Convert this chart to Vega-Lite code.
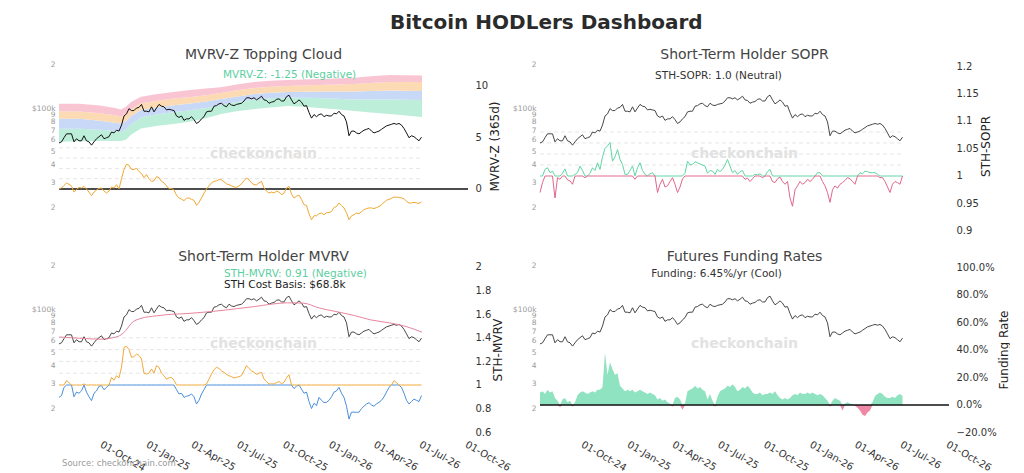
{
  "$schema": "https://vega.github.io/schema/vega-lite/v6.json",
  "background": "white",
  "padding": {"left": 31, "top": 13, "right": 0, "bottom": 0},
  "title": {"text": "Bitcoin HODLers Dashboard", "fontSize": 20, "fontWeight": "bold", "font": "DejaVu Sans", "color": "#2b2b2b", "anchor": "start", "frame": "group", "dx": 331, "offset": 15},
  "config": {
    "view": {"stroke": null},
    "font": "DejaVu Sans",
    "axis": {"grid": false, "domain": false, "ticks": false, "labelFont": "DejaVu Sans", "titleFont": "DejaVu Sans"},
    "title": {"font": "DejaVu Sans"}
  },
  "datasets": {
    "btc": [
      {"d":"2024-07-05","p":57000,"z":0,"s":0.970,"m":0.895,"f":0.09},
      {"d":"2024-07-10","p":58000,"z":0.1,"s":0.988,"m":0.91,"f":0.10},
      {"d":"2024-07-15","p":62000,"z":0.35,"s":1.012,"m":0.98,"f":0.08},
      {"d":"2024-07-20","p":66000,"z":0.58,"s":1.015,"m":1.037,"f":0.11},
      {"d":"2024-07-25","p":66000,"z":0.45,"s":1.006,"m":1.02,"f":0.09},
      {"d":"2024-07-30","p":66000,"z":0.3,"s":1.009,"m":1.0,"f":0.10},
      {"d":"2024-08-04","p":58000,"z":-0.3,"s":0.96,"m":0.90,"f":0.05},
      {"d":"2024-08-09","p":61000,"z":-0.05,"s":0.997,"m":0.94,"f":0.03},
      {"d":"2024-08-14","p":59000,"z":0.16,"s":0.994,"m":0.93,"f":-0.015},
      {"d":"2024-08-19","p":59000,"z":0.1,"s":1.005,"m":0.95,"f":0.04},
      {"d":"2024-08-24","p":64000,"z":0.26,"s":1.013,"m":1.008,"f":0.05},
      {"d":"2024-08-29","p":59000,"z":0,"s":0.993,"m":0.94,"f":0.02},
      {"d":"2024-09-03","p":58000,"z":-0.3,"s":0.991,"m":0.90,"f":0.03},
      {"d":"2024-09-08","p":55000,"z":-0.65,"s":0.985,"m":0.867,"f":-0.01},
      {"d":"2024-09-13","p":58000,"z":-0.3,"s":1.003,"m":0.93,"f":0.02},
      {"d":"2024-09-18","p":61000,"z":-0.1,"s":1.006,"m":0.95,"f":0.07},
      {"d":"2024-09-23","p":63000,"z":0.05,"s":1.018,"m":0.99,"f":0.09},
      {"d":"2024-09-28","p":65000,"z":0.1,"s":1.01,"m":0.994,"f":0.10},
      {"d":"2024-10-03","p":61000,"z":-0.2,"s":0.997,"m":0.96,"f":0.09},
      {"d":"2024-10-08","p":62000,"z":-0.39,"s":1.0,"m":0.98,"f":0.08},
      {"d":"2024-10-13","p":63000,"z":-0.2,"s":1.005,"m":1.0,"f":0.09},
      {"d":"2024-10-18","p":68000,"z":0.2,"s":1.015,"m":1.065,"f":0.10},
      {"d":"2024-10-23","p":67000,"z":0.1,"s":1.01,"m":1.04,"f":0.09},
      {"d":"2024-10-28","p":70000,"z":0.42,"s":1.024,"m":1.079,"f":0.11},
      {"d":"2024-11-02","p":69000,"z":0,"s":1.012,"m":1.06,"f":0.11},
      {"d":"2024-11-07","p":76000,"z":1.0,"s":1.035,"m":1.15,"f":0.13},
      {"d":"2024-11-12","p":88000,"z":1.9,"s":1.05,"m":1.319,"f":0.38},
      {"d":"2024-11-17","p":91000,"z":2.4,"s":1.055,"m":1.328,"f":0.22},
      {"d":"2024-11-22","p":99000,"z":2.3,"s":1.061,"m":1.30,"f":0.31},
      {"d":"2024-11-27","p":96000,"z":1.9,"s":1.027,"m":1.234,"f":0.26},
      {"d":"2024-12-02","p":96000,"z":1.9,"s":1.035,"m":1.24,"f":0.22},
      {"d":"2024-12-07","p":100000,"z":2.0,"s":1.048,"m":1.263,"f":0.23},
      {"d":"2024-12-12","p":101000,"z":1.7,"s":1.03,"m":1.25,"f":0.14},
      {"d":"2024-12-17","p":106000,"z":1.5,"s":1.021,"m":1.22,"f":0.12},
      {"d":"2024-12-22","p":95000,"z":1.1,"s":1.003,"m":1.10,"f":0.10},
      {"d":"2024-12-27","p":95000,"z":1.4,"s":1.003,"m":1.093,"f":0.11},
      {"d":"2025-01-01","p":94000,"z":1.0,"s":1.01,"m":1.10,"f":0.10},
      {"d":"2025-01-06","p":102000,"z":0.74,"s":1.018,"m":1.136,"f":0.11},
      {"d":"2025-01-11","p":94000,"z":0.8,"s":0.994,"m":1.10,"f":0.09},
      {"d":"2025-01-16","p":100000,"z":1.2,"s":1.015,"m":1.164,"f":0.10},
      {"d":"2025-01-21","p":106000,"z":1.1,"s":1.024,"m":1.15,"f":0.11},
      {"d":"2025-01-26","p":103000,"z":0.74,"s":1.01,"m":1.10,"f":0.10},
      {"d":"2025-01-31","p":102000,"z":0.6,"s":1.003,"m":1.079,"f":0.09},
      {"d":"2025-02-05","p":97000,"z":0.3,"s":1.0,"m":1.05,"f":0.08},
      {"d":"2025-02-10","p":98000,"z":0.03,"s":1.004,"m":1.06,"f":0.09},
      {"d":"2025-02-15","p":97000,"z":0.05,"s":1.006,"m":1.065,"f":0.08},
      {"d":"2025-02-20","p":96000,"z":-0.1,"s":1.0,"m":1.04,"f":0.07},
      {"d":"2025-02-25","p":88000,"z":-0.6,"s":0.97,"m":0.96,"f":0.04},
      {"d":"2025-03-02","p":86000,"z":-0.87,"s":0.985,"m":0.924,"f":0.05},
      {"d":"2025-03-07","p":88000,"z":-1.0,"s":0.994,"m":0.93,"f":0.03},
      {"d":"2025-03-12","p":82000,"z":-1.13,"s":0.98,"m":0.895,"f":0.04},
      {"d":"2025-03-17","p":84000,"z":-0.9,"s":0.982,"m":0.905,"f":0.02},
      {"d":"2025-03-22","p":84000,"z":-0.87,"s":0.99,"m":0.91,"f":0.01},
      {"d":"2025-03-27","p":87000,"z":-1.0,"s":0.997,"m":0.924,"f":-0.01},
      {"d":"2025-04-01","p":83000,"z":-1.1,"s":0.985,"m":0.90,"f":0.05},
      {"d":"2025-04-06","p":78000,"z":-1.59,"s":0.97,"m":0.839,"f":0.06},
      {"d":"2025-04-11","p":80000,"z":-1.3,"s":0.98,"m":0.87,"f":0.04},
      {"d":"2025-04-16","p":84000,"z":-0.87,"s":0.995,"m":0.924,"f":-0.035},
      {"d":"2025-04-21","p":87000,"z":-0.4,"s":1.005,"m":0.96,"f":0.01},
      {"d":"2025-04-26","p":94000,"z":0,"s":1.027,"m":1.008,"f":0.10},
      {"d":"2025-05-01","p":95000,"z":0.3,"s":1.02,"m":1.05,"f":0.11},
      {"d":"2025-05-06","p":95000,"z":0.6,"s":1.021,"m":1.093,"f":0.12},
      {"d":"2025-05-11","p":103000,"z":0.74,"s":1.026,"m":1.13,"f":0.14},
      {"d":"2025-05-16","p":104000,"z":0.8,"s":1.024,"m":1.15,"f":0.12},
      {"d":"2025-05-21","p":107000,"z":0.9,"s":1.022,"m":1.14,"f":0.13},
      {"d":"2025-05-26","p":108000,"z":0.9,"s":1.02,"m":1.12,"f":0.11},
      {"d":"2025-05-31","p":104000,"z":0.7,"s":1.018,"m":1.107,"f":0.10},
      {"d":"2025-06-05","p":102000,"z":0.5,"s":1.005,"m":1.09,"f":0.04},
      {"d":"2025-06-10","p":108000,"z":0.42,"s":1.01,"m":1.079,"f":0.08},
      {"d":"2025-06-15","p":105000,"z":0.3,"s":1.009,"m":1.07,"f":0.03},
      {"d":"2025-06-20","p":104000,"z":0.2,"s":1.003,"m":1.06,"f":-0.01},
      {"d":"2025-06-25","p":106000,"z":0.16,"s":1.012,"m":1.065,"f":0.06},
      {"d":"2025-06-30","p":107000,"z":0.3,"s":1.008,"m":1.07,"f":0.10},
      {"d":"2025-07-05","p":108000,"z":0.5,"s":1.012,"m":1.08,"f":0.11},
      {"d":"2025-07-10","p":112000,"z":0.8,"s":1.02,"m":1.12,"f":0.12},
      {"d":"2025-07-15","p":118000,"z":1.07,"s":1.03,"m":1.164,"f":0.14},
      {"d":"2025-07-20","p":118000,"z":0.9,"s":1.018,"m":1.14,"f":0.13},
      {"d":"2025-07-25","p":116000,"z":0.6,"s":1.006,"m":1.12,"f":0.15},
      {"d":"2025-07-30","p":118000,"z":0.42,"s":1.01,"m":1.107,"f":0.13},
      {"d":"2025-08-04","p":114000,"z":0.4,"s":1.003,"m":1.09,"f":0.10},
      {"d":"2025-08-09","p":117000,"z":0.6,"s":1.008,"m":1.10,"f":0.11},
      {"d":"2025-08-14","p":121000,"z":0.74,"s":1.01,"m":1.107,"f":0.13},
      {"d":"2025-08-19","p":114000,"z":0.1,"s":0.994,"m":1.05,"f":0.12},
      {"d":"2025-08-24","p":113000,"z":-0.2,"s":0.996,"m":1.03,"f":0.14},
      {"d":"2025-08-29","p":108000,"z":-0.39,"s":0.99,"m":1.008,"f":0.12},
      {"d":"2025-09-03","p":110000,"z":-0.3,"s":0.995,"m":1.01,"f":0.09},
      {"d":"2025-09-08","p":111000,"z":-0.39,"s":1.003,"m":1.008,"f":0.08},
      {"d":"2025-09-13","p":115000,"z":-0.2,"s":1.002,"m":1.02,"f":0.08},
      {"d":"2025-09-18","p":116000,"z":-0.3,"s":1.004,"m":1.03,"f":0.09},
      {"d":"2025-09-23","p":112000,"z":-0.55,"s":0.997,"m":1.01,"f":0.07},
      {"d":"2025-09-28","p":112000,"z":-0.4,"s":1.0,"m":1.023,"f":0.08},
      {"d":"2025-10-03","p":120000,"z":0.1,"s":1.008,"m":1.06,"f":0.08},
      {"d":"2025-10-08","p":123000,"z":0.26,"s":1.012,"m":1.088,"f":0.09},
      {"d":"2025-10-13","p":114000,"z":-0.5,"s":0.99,"m":1.0,"f":0.08},
      {"d":"2025-10-18","p":107000,"z":-0.87,"s":0.988,"m":0.97,"f":0.10},
      {"d":"2025-10-23","p":110000,"z":-0.7,"s":0.995,"m":0.99,"f":0.07},
      {"d":"2025-10-28","p":114000,"z":-0.6,"s":0.998,"m":1.0,"f":0.05},
      {"d":"2025-11-02","p":110000,"z":-1.0,"s":0.99,"m":0.965,"f":0.04},
      {"d":"2025-11-07","p":103000,"z":-1.52,"s":0.985,"m":0.93,"f":0.05},
      {"d":"2025-11-12","p":104000,"z":-1.6,"s":0.99,"m":0.94,"f":0.04},
      {"d":"2025-11-17","p":93000,"z":-2.4,"s":0.96,"m":0.86,"f":0.05},
      {"d":"2025-11-22","p":85000,"z":-2.98,"s":0.945,"m":0.80,"f":0.07},
      {"d":"2025-11-27","p":90000,"z":-2.6,"s":0.975,"m":0.845,"f":0.08},
      {"d":"2025-12-02","p":87000,"z":-2.6,"s":0.982,"m":0.825,"f":0.07},
      {"d":"2025-12-07","p":90000,"z":-2.4,"s":0.99,"m":0.895,"f":0.09},
      {"d":"2025-12-12","p":91000,"z":-2.33,"s":0.985,"m":0.87,"f":0.08},
      {"d":"2025-12-17","p":87000,"z":-2.5,"s":0.988,"m":0.85,"f":0.08},
      {"d":"2025-12-22","p":89000,"z":-2.3,"s":0.994,"m":0.853,"f":0.09},
      {"d":"2025-12-27","p":88000,"z":-2.3,"s":0.99,"m":0.87,"f":0.08},
      {"d":"2026-01-01","p":88000,"z":-2.17,"s":0.994,"m":0.90,"f":0.09},
      {"d":"2026-01-06","p":92000,"z":-1.8,"s":1.0,"m":0.94,"f":0.08},
      {"d":"2026-01-11","p":91000,"z":-1.7,"s":1.006,"m":0.95,"f":0.07},
      {"d":"2026-01-16","p":95000,"z":-1.36,"s":1.006,"m":0.98,"f":0.08},
      {"d":"2026-01-21","p":90000,"z":-1.6,"s":0.99,"m":0.93,"f":0.07},
      {"d":"2026-01-26","p":88000,"z":-1.84,"s":0.982,"m":0.895,"f":0.05},
      {"d":"2026-01-31","p":80000,"z":-2.3,"s":0.97,"m":0.82,"f":0.03},
      {"d":"2026-02-05","p":64000,"z":-2.98,"s":0.952,"m":0.711,"f":-0.01},
      {"d":"2026-02-10","p":69000,"z":-2.6,"s":0.975,"m":0.77,"f":0.03},
      {"d":"2026-02-15","p":69000,"z":-2.5,"s":0.982,"m":0.77,"f":0.05},
      {"d":"2026-02-20","p":67000,"z":-2.33,"s":0.978,"m":0.768,"f":0.04},
      {"d":"2026-02-25","p":66000,"z":-2.4,"s":0.985,"m":0.77,"f":0.03},
      {"d":"2026-03-02","p":68000,"z":-2.2,"s":0.988,"m":0.80,"f":-0.04},
      {"d":"2026-03-07","p":70000,"z":-2.0,"s":0.992,"m":0.82,"f":0.01},
      {"d":"2026-03-12","p":71000,"z":-1.9,"s":0.997,"m":0.839,"f":0.02},
      {"d":"2026-03-17","p":72000,"z":-1.84,"s":0.995,"m":0.85,"f":0.01},
      {"d":"2026-03-22","p":69000,"z":-1.84,"s":0.99,"m":0.83,"f":0.005},
      {"d":"2026-03-27","p":67000,"z":-1.9,"s":0.985,"m":0.82,"f":-0.005},
      {"d":"2026-04-01","p":68000,"z":-1.8,"s":1.0,"m":0.84,"f":-0.02},
      {"d":"2026-04-06","p":69000,"z":-1.7,"s":1.006,"m":0.853,"f":-0.04},
      {"d":"2026-04-11","p":71000,"z":-1.52,"s":1.004,"m":0.87,"f":-0.07},
      {"d":"2026-04-16","p":73000,"z":-1.3,"s":1.009,"m":0.90,"f":-0.08},
      {"d":"2026-04-21","p":75000,"z":-1.1,"s":1.008,"m":0.94,"f":-0.055},
      {"d":"2026-04-26","p":76000,"z":-1.0,"s":1.006,"m":0.98,"f":-0.04},
      {"d":"2026-05-01","p":77000,"z":-0.9,"s":1.006,"m":1.0,"f":0.02},
      {"d":"2026-05-06","p":78000,"z":-0.78,"s":1.006,"m":1.037,"f":0.065},
      {"d":"2026-05-11","p":77000,"z":-0.8,"s":1.003,"m":1.02,"f":0.08},
      {"d":"2026-05-16","p":78000,"z":-0.8,"s":0.997,"m":1.0,"f":0.09},
      {"d":"2026-05-21","p":76000,"z":-0.87,"s":0.997,"m":0.98,"f":0.08},
      {"d":"2026-05-26","p":72000,"z":-0.95,"s":0.99,"m":0.93,"f":0.06},
      {"d":"2026-05-31","p":67000,"z":-1.2,"s":0.98,"m":0.87,"f":0.05},
      {"d":"2026-06-05","p":62000,"z":-1.36,"s":0.97,"m":0.839,"f":0.05},
      {"d":"2026-06-10","p":64000,"z":-1.36,"s":0.985,"m":0.86,"f":0.06},
      {"d":"2026-06-15","p":63000,"z":-1.3,"s":0.99,"m":0.88,"f":0.05},
      {"d":"2026-06-20","p":61000,"z":-1.35,"s":0.988,"m":0.87,"f":0.07},
      {"d":"2026-06-25","p":59000,"z":-1.4,"s":0.985,"m":0.86,"f":0.08},
      {"d":"2026-06-30","p":62600,"z":-1.25,"s":1.0,"m":0.91,"f":0.0645}
    ],
    "smooth": [
      {"d":"2024-07-05","c0":58000,"c1":71600,"c2":84200,"c3":94800,"c4":107000,"cb":63700},
      {"d":"2024-08-15","c0":58500,"c1":71500,"c2":84000,"c3":94700,"c4":107000,"cb":62500},
      {"d":"2024-09-25","c0":58800,"c1":70500,"c2":81500,"c3":92000,"c4":104000,"cb":61500},
      {"d":"2024-10-25","c0":58800,"c1":69000,"c2":79000,"c3":89000,"c4":100000,"cb":63500},
      {"d":"2024-11-06","c0":58800,"c1":68000,"c2":78000,"c3":87200,"c4":97600,"cb":66000},
      {"d":"2024-11-16","c0":60000,"c1":71000,"c2":81000,"c3":91000,"c4":102000,"cb":71000},
      {"d":"2024-11-26","c0":65000,"c1":77000,"c2":88000,"c3":98000,"c4":110000,"cb":79000},
      {"d":"2024-12-16","c0":72000,"c1":86000,"c2":97000,"c3":108000,"c4":120000,"cb":86000},
      {"d":"2025-01-15","c0":75000,"c1":90000,"c2":101000,"c3":112000,"c4":125000,"cb":89500},
      {"d":"2025-02-15","c0":77000,"c1":93000,"c2":104000,"c3":116000,"c4":129000,"cb":91800},
      {"d":"2025-03-20","c0":80000,"c1":96000,"c2":107000,"c3":119000,"c4":133000,"cb":93000},
      {"d":"2025-04-25","c0":85000,"c1":100000,"c2":111000,"c3":123000,"c4":137000,"cb":95300},
      {"d":"2025-05-25","c0":90800,"c1":105000,"c2":115600,"c3":127300,"c4":140000,"cb":97500},
      {"d":"2025-06-25","c0":95000,"c1":110000,"c2":120000,"c3":133000,"c4":146000,"cb":100500},
      {"d":"2025-07-31","c0":98400,"c1":114700,"c2":125300,"c3":138000,"c4":152000,"cb":104000},
      {"d":"2025-09-01","c0":101000,"c1":117000,"c2":128000,"c3":141000,"c4":155000,"cb":107900},
      {"d":"2025-10-05","c0":103300,"c1":118400,"c2":129400,"c3":142500,"c4":157000,"cb":110500},
      {"d":"2025-11-05","c0":102000,"c1":118000,"c2":130000,"c3":144000,"c4":158500,"cb":110000},
      {"d":"2025-12-08","c0":100000,"c1":117500,"c2":130400,"c3":145000,"c4":159500,"cb":101500},
      {"d":"2026-01-10","c0":98000,"c1":116000,"c2":130400,"c3":146000,"c4":161000,"cb":96000},
      {"d":"2026-02-16","c0":95300,"c1":114700,"c2":130400,"c3":147000,"c4":163000,"cb":90000},
      {"d":"2026-03-20","c0":93000,"c1":114700,"c2":131500,"c3":149500,"c4":166500,"cb":84000},
      {"d":"2026-04-27","c0":90800,"c1":114700,"c2":132600,"c3":152000,"c4":170000,"cb":80000},
      {"d":"2026-05-30","c0":88500,"c1":114200,"c2":132000,"c3":152000,"c4":169500,"cb":75500},
      {"d":"2026-07-01","c0":86500,"c1":113700,"c2":131500,"c3":152000,"c4":168700,"cb":68800}
    ]
  },
  "columns": 2,
  "spacing": {"row": 32, "column": 72},
  "bounds": "flush",
  "resolve": {"scale": {"x": "independent", "y": "independent"}},
  "concat": [
        {
          "width": 409, "height": 172,
          "title": {"text": "MVRV-Z Topping Cloud", "fontSize": 14, "fontWeight": "normal", "color": "#444", "baseline": "alphabetic", "offset": -13},
          "data": {"name": "btc"},
          "resolve": {"scale": {"y": "independent"}},
          "layer": [
            {"data": {"name": "smooth"}, "mark": {"type": "area", "color": "#bdeed9", "opacity": 1},
             "encoding": {"x": {"field": "d", "type": "temporal", "scale": {"type": "utc", "domain": [{"year":2024,"month":7,"date":5,"utc":true},{"year":2026,"month":10,"date":1,"utc":true}]}, "axis": null},
                          "y": {"field": "c0", "type": "quantitative", "scale": {"type": "log", "domain": [13590, 216700], "nice": false}, "axis": null},
                          "y2": {"field": "c1"}}},
            {"data": {"name": "smooth"}, "mark": {"type": "area", "color": "#c8d9f7", "opacity": 1},
             "encoding": {"x": {"field": "d", "type": "temporal", "scale": {"type": "utc", "domain": [{"year":2024,"month":7,"date":5,"utc":true},{"year":2026,"month":10,"date":1,"utc":true}]}, "axis": null},
                          "y": {"field": "c1", "type": "quantitative", "scale": {"type": "log", "domain": [13590, 216700], "nice": false}, "axis": null},
                          "y2": {"field": "c2"}}},
            {"data": {"name": "smooth"}, "mark": {"type": "area", "color": "#fcdab4", "opacity": 1},
             "encoding": {"x": {"field": "d", "type": "temporal", "scale": {"type": "utc", "domain": [{"year":2024,"month":7,"date":5,"utc":true},{"year":2026,"month":10,"date":1,"utc":true}]}, "axis": null},
                          "y": {"field": "c2", "type": "quantitative", "scale": {"type": "log", "domain": [13590, 216700], "nice": false}, "axis": null},
                          "y2": {"field": "c3"}}},
            {"data": {"name": "smooth"}, "mark": {"type": "area", "color": "#f9c5d3", "opacity": 1},
             "encoding": {"x": {"field": "d", "type": "temporal", "scale": {"type": "utc", "domain": [{"year":2024,"month":7,"date":5,"utc":true},{"year":2026,"month":10,"date":1,"utc":true}]}, "axis": null},
                          "y": {"field": "c3", "type": "quantitative", "scale": {"type": "log", "domain": [13590, 216700], "nice": false}, "axis": null},
                          "y2": {"field": "c4"}}},
            {"data": {"values": [{"v": 1}, {"v": 2}, {"v": 3}, {"v": 4}]}, "mark": {"type": "rule", "color": "#e6e6e6", "strokeDash": [4, 3], "strokeWidth": 1},
             "encoding": {"x": {"datum": {"year":2024,"month":7,"date":5,"utc":true}, "type": "temporal", "scale": {"type": "utc", "domain": [{"year":2024,"month":7,"date":5,"utc":true},{"year":2026,"month":10,"date":1,"utc":true}]}, "axis": null},
                          "x2": {"datum": {"year":2026,"month":6,"date":30,"utc":true}},
                          "y": {"field": "v", "type": "quantitative", "scale": {"domain": [-4.175, 12.524], "nice": false, "zero": false}, "axis": null}}},
            {"data": {"values": [{}]}, "mark": {"type": "text", "text": "checkonchain", "fontSize": 14, "fontWeight": "bold", "color": "#e2e2e2", "align": "center", "baseline": "middle"},
             "encoding": {"x": {"datum": {"year":2025,"month":8,"date":18,"utc":true}, "type": "temporal", "scale": {"type": "utc", "domain": [{"year":2024,"month":7,"date":5,"utc":true},{"year":2026,"month":10,"date":1,"utc":true}]}, "axis": null},
                          "y": {"datum": 3.4, "type": "quantitative", "scale": {"domain": [-4.175, 12.524], "nice": false, "zero": false}, "axis": null}}},
            {"mark": {"type": "line", "color": "#111111", "strokeWidth": 1},
             "encoding": {"x": {"field": "d", "type": "temporal", "scale": {"type": "utc", "domain": [{"year":2024,"month":7,"date":5,"utc":true},{"year":2026,"month":10,"date":1,"utc":true}]}, "axis": null},
                          "y": {"field": "p", "type": "quantitative", "scale": {"type": "log", "domain": [13590, 216700], "nice": false},
                                "axis": {"orient": "left", "values": [20000,30000,40000,50000,60000,70000,80000,90000,100000,200000], "labelExpr": "datum.value == 100000 ? '$100k' : datum.value > 100000 ? format(datum.value / 100000, 'd') : format(datum.value / 10000, 'd')", "labelFontSize": 7.5, "labelColor": "#9a9a9a", "labelPadding": 4, "labelOverlap": false, "labelBound": false, "title": null}}}},
            {"data": {"values": [{}]}, "mark": {"type": "rule", "color": "#111111", "strokeWidth": 1.3},
             "encoding": {"y": {"datum": 0, "type": "quantitative", "scale": {"domain": [-4.175, 12.524], "nice": false, "zero": false}, "axis": null}}},
            {"mark": {"type": "line", "color": "#f0a830", "strokeWidth": 1},
             "encoding": {"x": {"field": "d", "type": "temporal", "scale": {"type": "utc", "domain": [{"year":2024,"month":7,"date":5,"utc":true},{"year":2026,"month":10,"date":1,"utc":true}]}, "axis": null},
                          "y": {"field": "z", "type": "quantitative", "scale": {"domain": [-4.175, 12.524], "nice": false, "zero": false},
                                "axis": {"orient": "right", "values": [0, 5, 10], "format": "~r", "labelFontSize": 10, "labelColor": "#333", "labelPadding": 7, "title": "MVRV-Z (365d)", "titleAngle": 270, "titleBaseline": "top", "titleFontSize": 12, "titleFontWeight": "normal", "titleColor": "#222", "titlePadding": 2}}}},
            {"data": {"values": [{}]}, "mark": {"type": "text", "text": "MVRV-Z: -1.25 (Negative)", "fontSize": 10.5, "color": "#5ccf9f", "align": "left", "baseline": "middle"},
             "encoding": {"x": {"datum": {"year":2025,"month":5,"date":29,"utc":true}, "type": "temporal", "scale": {"type": "utc", "domain": [{"year":2024,"month":7,"date":5,"utc":true},{"year":2026,"month":10,"date":1,"utc":true}]}, "axis": null},
                          "y": {"datum": 11.07, "type": "quantitative", "scale": {"domain": [-4.175, 12.524], "nice": false, "zero": false}, "axis": null}}}
          ]
        },
        {
          "width": 409, "height": 172,
          "title": {"text": "Short-Term Holder SOPR", "fontSize": 14, "fontWeight": "normal", "color": "#444", "baseline": "alphabetic", "offset": -13},
          "data": {"name": "btc"},
          "resolve": {"scale": {"y": "independent"}},
          "layer": [
            {"data": {"values": [{"v": 1.02}, {"v": 1.04}, {"v": 1.06}, {"v": 1.08}]}, "mark": {"type": "rule", "color": "#e6e6e6", "strokeDash": [4, 3], "strokeWidth": 1},
             "encoding": {"x": {"datum": {"year":2024,"month":7,"date":5,"utc":true}, "type": "temporal", "scale": {"type": "utc", "domain": [{"year":2024,"month":7,"date":5,"utc":true},{"year":2026,"month":10,"date":1,"utc":true}]}, "axis": null},
                          "x2": {"datum": {"year":2026,"month":6,"date":30,"utc":true}},
                          "y": {"field": "v", "type": "quantitative", "scale": {"domain": [0.89818, 1.21091], "nice": false, "zero": false}, "axis": null}}},
            {"data": {"values": [{}]}, "mark": {"type": "text", "text": "checkonchain", "fontSize": 14, "fontWeight": "bold", "color": "#e2e2e2", "align": "center", "baseline": "middle"},
             "encoding": {"x": {"datum": {"year":2025,"month":8,"date":18,"utc":true}, "type": "temporal", "scale": {"type": "utc", "domain": [{"year":2024,"month":7,"date":5,"utc":true},{"year":2026,"month":10,"date":1,"utc":true}]}, "axis": null},
                          "y": {"datum": 1.04, "type": "quantitative", "scale": {"domain": [0.89818, 1.21091], "nice": false, "zero": false}, "axis": null}}},
            {"mark": {"type": "line", "color": "#333333", "strokeWidth": 0.9},
             "encoding": {"x": {"field": "d", "type": "temporal", "scale": {"type": "utc", "domain": [{"year":2024,"month":7,"date":5,"utc":true},{"year":2026,"month":10,"date":1,"utc":true}]}, "axis": null},
                          "y": {"field": "p", "type": "quantitative", "scale": {"type": "log", "domain": [13590, 216700], "nice": false},
                                "axis": {"orient": "left", "values": [20000,30000,40000,50000,60000,70000,80000,90000,100000,200000], "labelExpr": "datum.value == 100000 ? '$100k' : datum.value > 100000 ? format(datum.value / 100000, 'd') : format(datum.value / 10000, 'd')", "labelFontSize": 7.5, "labelColor": "#9a9a9a", "labelPadding": 4, "labelOverlap": false, "labelBound": false, "title": null}}}},
            {"mark": {"type": "line", "color": "#5fd6a4", "strokeWidth": 1},
             "encoding": {"x": {"field": "d", "type": "temporal", "scale": {"type": "utc", "domain": [{"year":2024,"month":7,"date":5,"utc":true},{"year":2026,"month":10,"date":1,"utc":true}]}, "axis": null},
                          "y": {"field": "s", "type": "quantitative", "scale": {"domain": [1, 1.21091], "range": [116, 0], "clamp": true, "nice": false, "zero": false}, "axis": null}}},
            {"mark": {"type": "line", "color": "#e2668c", "strokeWidth": 1},
             "encoding": {"x": {"field": "d", "type": "temporal", "scale": {"type": "utc", "domain": [{"year":2024,"month":7,"date":5,"utc":true},{"year":2026,"month":10,"date":1,"utc":true}]}, "axis": null},
                          "y": {"field": "s", "type": "quantitative", "scale": {"domain": [0.89818, 1], "range": [172, 116], "clamp": true, "nice": false, "zero": false}, "axis": null}}},
            {"data": {"values": [{}]}, "mark": {"type": "text", "text": "STH-SOPR: 1.0 (Neutral)", "fontSize": 10.5, "color": "#333", "align": "center", "baseline": "middle"},
             "encoding": {"x": {"datum": {"year":2025,"month":6,"date":27,"utc":true}, "type": "temporal", "scale": {"type": "utc", "domain": [{"year":2024,"month":7,"date":5,"utc":true},{"year":2026,"month":10,"date":1,"utc":true}]}, "axis": null},
                          "y": {"datum": 1.1818, "type": "quantitative", "scale": {"domain": [0.89818, 1.21091], "nice": false, "zero": false},
                                "axis": {"orient": "right", "values": [0.9, 0.95, 1, 1.05, 1.1, 1.15, 1.2], "format": "~r", "labelFontSize": 10, "labelColor": "#333", "labelPadding": 7, "title": "STH-SOPR", "titleAngle": 270, "titleBaseline": "top", "titleFontSize": 12, "titleFontWeight": "normal", "titleColor": "#222", "titlePadding": 2}}}}
          ]
        },
        {
          "width": 409, "height": 171,
          "title": {"text": "Short-Term Holder MVRV", "fontSize": 14, "fontWeight": "normal", "color": "#444", "baseline": "alphabetic", "offset": -13},
          "data": {"name": "btc"},
          "resolve": {"scale": {"y": "independent"}},
          "layer": [
            {"data": {"values": [{"v": 1.1}, {"v": 1.2}, {"v": 1.3}, {"v": 1.4}]}, "mark": {"type": "rule", "color": "#e6e6e6", "strokeDash": [4, 3], "strokeWidth": 1},
             "encoding": {"x": {"datum": {"year":2024,"month":7,"date":5,"utc":true}, "type": "temporal", "scale": {"type": "utc", "domain": [{"year":2024,"month":7,"date":5,"utc":true},{"year":2026,"month":10,"date":1,"utc":true}]},
                                "axis": {"values": [{"year":2024,"month":10,"date":1,"utc":true},{"year":2025,"month":1,"date":1,"utc":true},{"year":2025,"month":4,"date":1,"utc":true},{"year":2025,"month":7,"date":1,"utc":true},{"year":2025,"month":10,"date":1,"utc":true},{"year":2026,"month":1,"date":1,"utc":true},{"year":2026,"month":4,"date":1,"utc":true},{"year":2026,"month":7,"date":1,"utc":true},{"year":2026,"month":10,"date":1,"utc":true}], "format": "%d-%b-%y", "labelAngle": 30, "labelAlign": "left", "labelBaseline": "top", "labelFontSize": 10, "labelColor": "#333", "labelPadding": 4, "labelOverlap": false, "labelFlush": false, "labelBound": false, "title": null}},
                          "x2": {"datum": {"year":2026,"month":6,"date":30,"utc":true}},
                          "y": {"field": "v", "type": "quantitative", "scale": {"domain": [0.5758, 2.0254], "nice": false, "zero": false}, "axis": null}}},
            {"data": {"values": [{}]}, "mark": {"type": "text", "text": "checkonchain", "fontSize": 14, "fontWeight": "bold", "color": "#e2e2e2", "align": "center", "baseline": "middle"},
             "encoding": {"x": {"datum": {"year":2025,"month":8,"date":18,"utc":true}, "type": "temporal", "scale": {"type": "utc", "domain": [{"year":2024,"month":7,"date":5,"utc":true},{"year":2026,"month":10,"date":1,"utc":true}]}},
                          "y": {"datum": 1.347, "type": "quantitative", "scale": {"domain": [0.5758, 2.0254], "nice": false, "zero": false}, "axis": null}}},
            {"mark": {"type": "line", "color": "#333333", "strokeWidth": 0.9},
             "encoding": {"x": {"field": "d", "type": "temporal", "scale": {"type": "utc", "domain": [{"year":2024,"month":7,"date":5,"utc":true},{"year":2026,"month":10,"date":1,"utc":true}]}},
                          "y": {"field": "p", "type": "quantitative", "scale": {"type": "log", "domain": [13150, 206400], "nice": false},
                                "axis": {"orient": "left", "values": [20000,30000,40000,50000,60000,70000,80000,90000,100000,200000], "labelExpr": "datum.value == 100000 ? '$100k' : datum.value > 100000 ? format(datum.value / 100000, 'd') : format(datum.value / 10000, 'd')", "labelFontSize": 7.5, "labelColor": "#9a9a9a", "labelPadding": 4, "labelOverlap": false, "labelBound": false, "title": null}}}},
            {"data": {"name": "smooth"}, "mark": {"type": "line", "color": "#e8869f", "strokeWidth": 1, "interpolate": "monotone"},
             "encoding": {"x": {"field": "d", "type": "temporal", "scale": {"type": "utc", "domain": [{"year":2024,"month":7,"date":5,"utc":true},{"year":2026,"month":10,"date":1,"utc":true}]}},
                          "y": {"field": "cb", "type": "quantitative", "scale": {"type": "log", "domain": [13150, 206400], "nice": false}, "axis": null}}},
            {"mark": {"type": "line", "color": "#4a8fdc", "strokeWidth": 1},
             "encoding": {"x": {"field": "d", "type": "temporal", "scale": {"type": "utc", "domain": [{"year":2024,"month":7,"date":5,"utc":true},{"year":2026,"month":10,"date":1,"utc":true}]}},
                          "y": {"field": "m", "type": "quantitative", "scale": {"domain": [0.5758, 1], "range": [171, 121], "clamp": true, "nice": false, "zero": false}, "axis": null}}},
            {"mark": {"type": "line", "color": "#f2a93b", "strokeWidth": 1},
             "encoding": {"x": {"field": "d", "type": "temporal", "scale": {"type": "utc", "domain": [{"year":2024,"month":7,"date":5,"utc":true},{"year":2026,"month":10,"date":1,"utc":true}]}},
                          "y": {"field": "m", "type": "quantitative", "scale": {"domain": [1, 2.0254], "range": [121, 0], "clamp": true, "nice": false, "zero": false}, "axis": null}}},
            {"data": {"values": [{}]}, "mark": {"type": "text", "text": "STH-MVRV: 0.91 (Negative)", "fontSize": 10.5, "color": "#5ccf9f", "align": "left", "baseline": "middle"},
             "encoding": {"x": {"datum": {"year":2025,"month":5,"date":31,"utc":true}, "type": "temporal", "scale": {"type": "utc", "domain": [{"year":2024,"month":7,"date":5,"utc":true},{"year":2026,"month":10,"date":1,"utc":true}]}},
                          "y": {"datum": 1.9407, "type": "quantitative", "scale": {"domain": [0.5758, 2.0254], "nice": false, "zero": false},
                                "axis": {"orient": "right", "values": [0.6, 0.8, 1, 1.2, 1.4, 1.6, 1.8, 2], "format": "~r", "labelFontSize": 10, "labelColor": "#333", "labelPadding": 7, "title": "STH-MVRV", "titleAngle": 270, "titleBaseline": "top", "titleFontSize": 12, "titleFontWeight": "normal", "titleColor": "#222", "titlePadding": 2}}}},
            {"data": {"values": [{}]}, "mark": {"type": "text", "text": "STH Cost Basis: $68.8k", "fontSize": 10.5, "color": "#222", "align": "left", "baseline": "middle"},
             "encoding": {"x": {"datum": {"year":2025,"month":5,"date":31,"utc":true}, "type": "temporal", "scale": {"type": "utc", "domain": [{"year":2024,"month":7,"date":5,"utc":true},{"year":2026,"month":10,"date":1,"utc":true}]}},
                          "y": {"datum": 1.8474, "type": "quantitative", "scale": {"domain": [0.5758, 2.0254], "nice": false, "zero": false}, "axis": null}}},
            {"data": {"values": [{}]}, "mark": {"type": "text", "text": "Source: checkonchain.com", "fontSize": 8.5, "color": "#9a9a9a", "align": "left", "baseline": "middle"},
             "encoding": {"x": {"datum": {"year":2024,"month":7,"date":11,"utc":true}, "type": "temporal", "scale": {"type": "utc", "domain": [{"year":2024,"month":7,"date":5,"utc":true},{"year":2026,"month":10,"date":1,"utc":true}]}},
                          "y": {"datum": 0.339, "type": "quantitative", "scale": {"domain": [0.5758, 2.0254], "nice": false, "zero": false}, "axis": null}}}
          ]
        },
        {
          "width": 409, "height": 171,
          "title": {"text": "Futures Funding Rates", "fontSize": 14, "fontWeight": "normal", "color": "#444", "baseline": "alphabetic", "offset": -13},
          "data": {"name": "btc"},
          "resolve": {"scale": {"y": "independent"}},
          "layer": [
            {"data": {"values": [{}]}, "mark": {"type": "text", "text": "checkonchain", "fontSize": 14, "fontWeight": "bold", "color": "#e2e2e2", "align": "center", "baseline": "middle"},
             "encoding": {"x": {"datum": {"year":2025,"month":8,"date":18,"utc":true}, "type": "temporal", "scale": {"type": "utc", "domain": [{"year":2024,"month":7,"date":5,"utc":true},{"year":2026,"month":10,"date":1,"utc":true}]},
                                "axis": {"values": [{"year":2024,"month":10,"date":1,"utc":true},{"year":2025,"month":1,"date":1,"utc":true},{"year":2025,"month":4,"date":1,"utc":true},{"year":2025,"month":7,"date":1,"utc":true},{"year":2025,"month":10,"date":1,"utc":true},{"year":2026,"month":1,"date":1,"utc":true},{"year":2026,"month":4,"date":1,"utc":true},{"year":2026,"month":7,"date":1,"utc":true},{"year":2026,"month":10,"date":1,"utc":true}], "format": "%d-%b-%y", "labelAngle": 30, "labelAlign": "left", "labelBaseline": "top", "labelFontSize": 10, "labelColor": "#333", "labelPadding": 4, "labelOverlap": false, "labelFlush": false, "labelBound": false, "title": null}},
                          "y": {"datum": 0.443, "type": "quantitative", "scale": {"domain": [-0.2179, 1.024], "nice": false, "zero": false}, "axis": null}}},
            {"mark": {"type": "line", "color": "#333333", "strokeWidth": 0.9},
             "encoding": {"x": {"field": "d", "type": "temporal", "scale": {"type": "utc", "domain": [{"year":2024,"month":7,"date":5,"utc":true},{"year":2026,"month":10,"date":1,"utc":true}]}},
                          "y": {"field": "p", "type": "quantitative", "scale": {"type": "log", "domain": [13150, 206400], "nice": false},
                                "axis": {"orient": "left", "values": [20000,30000,40000,50000,60000,70000,80000,90000,100000,200000], "labelExpr": "datum.value == 100000 ? '$100k' : datum.value > 100000 ? format(datum.value / 100000, 'd') : format(datum.value / 10000, 'd')", "labelFontSize": 7.5, "labelColor": "#9a9a9a", "labelPadding": 4, "labelOverlap": false, "labelBound": false, "title": null}}}},
            {"mark": {"type": "area", "color": "#8fe3c1", "opacity": 1},
             "encoding": {"x": {"field": "d", "type": "temporal", "scale": {"type": "utc", "domain": [{"year":2024,"month":7,"date":5,"utc":true},{"year":2026,"month":10,"date":1,"utc":true}]}},
                          "y": {"field": "f", "type": "quantitative", "stack": null, "scale": {"domain": [0, 1.024], "range": [141, 0], "clamp": true, "nice": false, "zero": false}, "axis": null},
                          "y2": {"datum": 0}}},
            {"mark": {"type": "area", "color": "#ef88a6", "opacity": 1},
             "encoding": {"x": {"field": "d", "type": "temporal", "scale": {"type": "utc", "domain": [{"year":2024,"month":7,"date":5,"utc":true},{"year":2026,"month":10,"date":1,"utc":true}]}},
                          "y": {"field": "f", "type": "quantitative", "stack": null, "scale": {"domain": [-0.2179, 0], "range": [171, 141], "clamp": true, "nice": false, "zero": false}, "axis": null},
                          "y2": {"datum": 0}}},
            {"data": {"values": [{}]}, "mark": {"type": "rule", "color": "#111111", "strokeWidth": 1.3},
             "encoding": {"y": {"datum": 0, "type": "quantitative", "scale": {"domain": [-0.2179, 1.024], "nice": false, "zero": false}, "axis": null}}},
            {"data": {"values": [{}]}, "mark": {"type": "text", "text": "Funding: 6.45%/yr (Cool)", "fontSize": 10.5, "color": "#333", "align": "center", "baseline": "middle"},
             "encoding": {"x": {"datum": {"year":2025,"month":6,"date":23,"utc":true}, "type": "temporal", "scale": {"type": "utc", "domain": [{"year":2024,"month":7,"date":5,"utc":true},{"year":2026,"month":10,"date":1,"utc":true}]}},
                          "y": {"datum": 0.9514, "type": "quantitative", "scale": {"domain": [-0.2179, 1.024], "nice": false, "zero": false},
                                "axis": {"orient": "right", "values": [-0.2, 0, 0.2, 0.4, 0.6, 0.8, 1], "format": ".1%", "labelFontSize": 10, "labelColor": "#333", "labelPadding": 7, "title": "Funding Rate", "titleAngle": 270, "titleBaseline": "top", "titleFontSize": 12, "titleFontWeight": "normal", "titleColor": "#222", "titlePadding": 2}}}}
          ]
        }
  ]
}
